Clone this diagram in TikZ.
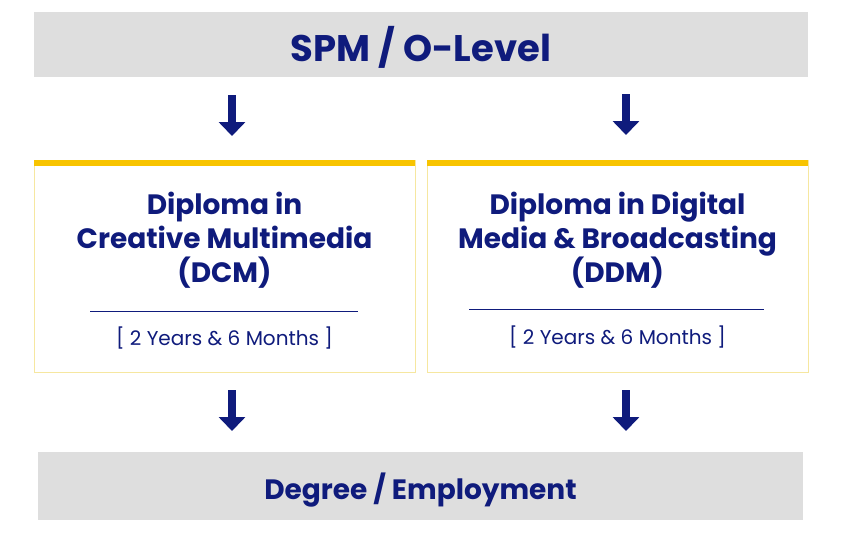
\documentclass[tikz,border=0pt]{standalone}
\usepackage{fontspec}
\setmainfont{Poppins}
\usetikzlibrary{arrows.meta}
\definecolor{navy}{HTML}{0F1B7C}
\definecolor{boxgray}{HTML}{DEDEDE}
\definecolor{gold}{HTML}{F8C400}
\definecolor{paleyellow}{HTML}{F6E7A0}
\tikzset{
  band/.style={fill=boxgray, draw=none, inner sep=0pt},
  course/.style={draw=paleyellow, line width=0.8pt, fill=white, inner sep=0pt},
  title/.style={text=navy, font=\bfseries\fontsize{28}{34}\selectfont, align=center},
  flow/.style={navy, line width=8pt, -{Triangle[width=26pt,length=14pt]}}
}
\begin{document}
\begin{tikzpicture}[x=1pt,y=-1pt]
  \useasboundingbox (0,0) rectangle (842,539);
  % bands
  \node[band, minimum width=774pt, minimum height=65pt] (entry) at (421,44.5) {};
  \node[title, font=\bfseries\fontsize{37}{40}\selectfont] at (421,47) {SPM / O-Level};
  \node[band, minimum width=765pt, minimum height=68pt] (exit) at (420.5,486) {};
  \node[title] at (420.5,490) {Degree / Employment};
  % course boxes
  \node[course, minimum width=381pt, minimum height=212pt] (dcm) at (224.5,266) {};
  \node[course, minimum width=381pt, minimum height=212pt] (ddm) at (617.5,266) {};
  \fill[gold] (dcm.north west) rectangle ++(381,6);
  \fill[gold] (ddm.north west) rectangle ++(381,6);
  \node[title] (dcmname) at (224.5,240) {Diploma in\\Creative Multimedia\\(DCM)};
  \node[title] (ddmname) at (617.5,240) {Diploma in Digital\\Media \& Broadcasting\\(DDM)};
  \draw[navy, line width=0.8pt] (90,311) -- (358,311);
  \draw[navy, line width=0.8pt] (469,309) -- (764,309);
  \node[text=navy, font=\fontsize{20}{24}\selectfont] (dcmtime) at (224.5,338) {[ 2 Years \& 6 Months ]};
  \node[text=navy, font=\fontsize{20}{24}\selectfont] (ddmtime) at (617.5,337) {[ 2 Years \& 6 Months ]};
  % arrows
  \coordinate (a1) at (232,95);  \coordinate (b1) at (232,136);
  \coordinate (a2) at (626,94);  \coordinate (b2) at (626,135);
  \coordinate (a3) at (232,390); \coordinate (b3) at (232,431);
  \coordinate (a4) at (626,390); \coordinate (b4) at (626,431);
  \draw[flow] (a1) -- (b1);
  \draw[flow] (a2) -- (b2);
  \draw[flow] (a3) -- (b3);
  \draw[flow] (a4) -- (b4);
\end{tikzpicture}
\end{document}
